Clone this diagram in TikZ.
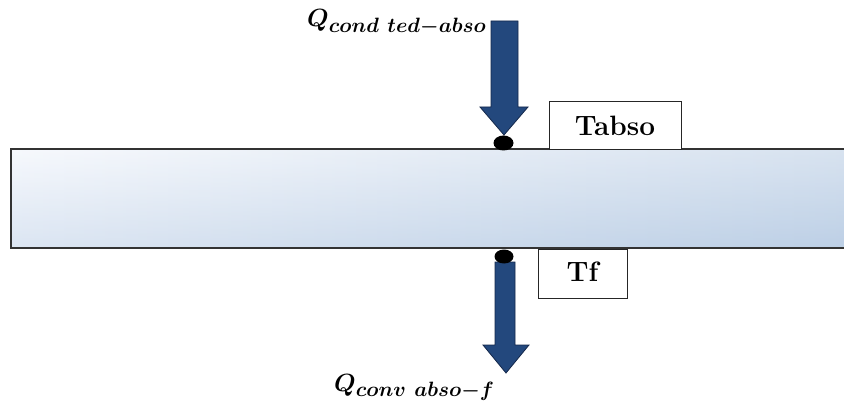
\documentclass[tikz,border=0pt]{standalone}
\usepackage{amsmath}
\usepackage{bm}
\begin{document}
\begin{tikzpicture}[x=1pt,y=-1pt,
  slab/.style={draw=black!80,line width=1.2pt},
  blockarrow/.style={fill=arrowblue,draw=arrowedge,line width=0.8pt},
  tempbox/.style={draw=black!85,line width=0.8pt,fill=white},
  junction/.style={fill=black},
  lbl/.style={font=\fontsize{28}{30}\selectfont,inner sep=0pt},
  boxtext/.style={font=\fontsize{28}{30}\selectfont\bfseries,inner sep=0pt}]
\definecolor{arrowblue}{RGB}{35,72,125}
\definecolor{arrowedge}{RGB}{20,40,75}
\definecolor{slabA}{RGB}{240,244,251}
\definecolor{slabB}{RGB}{184,204,228}
\definecolor{slabC}{RGB}{195,212,232}
\useasboundingbox (0,0) rectangle (844,401);
% slab
\shade[left color=slabA,right color=slabB] (11,149) rectangle (846,248);
\shade[top color=white,bottom color=slabC,opacity=0.45] (11,149) rectangle (846,248);
\draw[slab] (846,149) -- (11,149) -- (11,248) -- (846,248);
% boxes
\draw[tempbox] (549,101) rectangle (681,149);
\node[boxtext] (tabso) at (615,126) {Tabso};
\draw[tempbox] (538,249) rectangle (627,298);
\node[boxtext] (tf) at (582.5,272) {Tf};
% top arrow
\draw[blockarrow] (491,21) -- (518,21) -- (518,107) -- (528,107) -- (504,135) -- (480,107) -- (491,107) -- cycle;
\fill[junction] (503.5,143) ellipse (10 and 7.5);
% bottom arrow
\draw[blockarrow] (495,262) -- (515,262) -- (515,345) -- (529,345) -- (506,373) -- (483,345) -- (495,345) -- cycle;
\fill[junction] (504,256.5) ellipse (9.5 and 7);
% labels
\node[lbl,anchor=base west] (qtop) at (307,27) {$\bm{Q_{cond\ ted-abso}}$};
\node[lbl,anchor=base west] (qbot) at (334,391) {$\bm{Q_{conv\ abso-f}}$};
\end{tikzpicture}
\end{document}
